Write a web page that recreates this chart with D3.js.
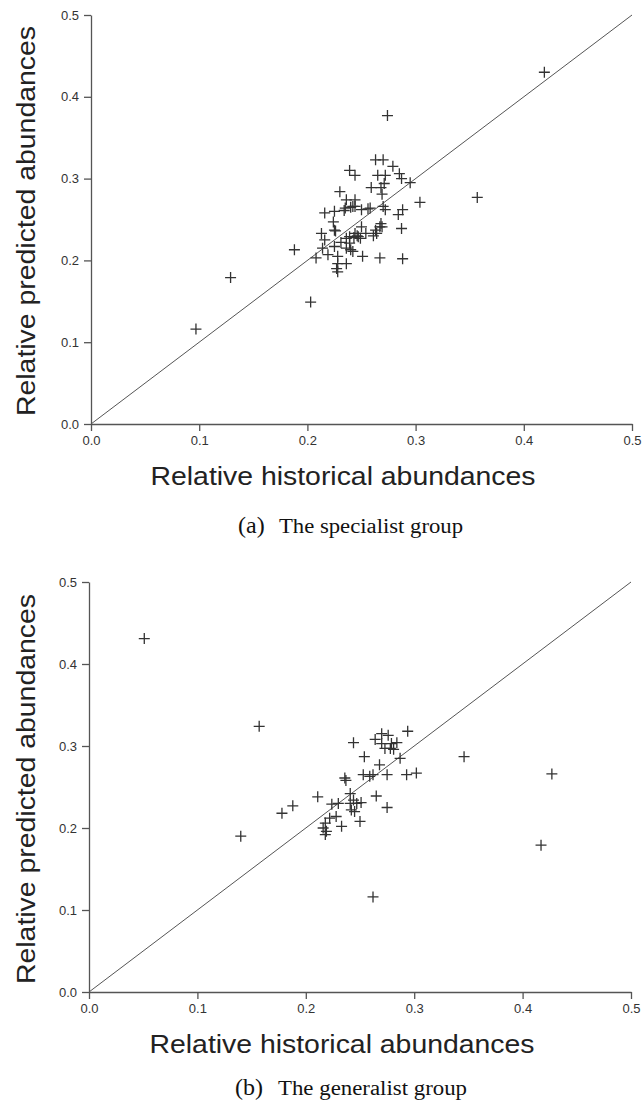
<!DOCTYPE html>
<html>
<head>
<meta charset="utf-8">
<script src="https://cdn.jsdelivr.net/npm/d3@7"></script>
<style>
  body { margin: 0; background: #fff; }
  svg { display: block; }
</style>
</head>
<body>
<svg id="chart" width="644" height="1102"></svg>
<script>
// tick values shared by both panels
const ticks = [0, 0.1, 0.2, 0.3, 0.4, 0.5];

// (a) specialist group: historical vs predicted
const specHist = [0.419, 0.274, 0.357, 0.188, 0.129, 0.203, 0.097,
  0.263, 0.270, 0.279, 0.285, 0.287, 0.239, 0.244, 0.265, 0.272, 0.271, 0.295, 0.259, 0.268, 0.230,
  0.269, 0.304, 0.236, 0.242, 0.250, 0.258, 0.270, 0.272, 0.288, 0.284, 0.225, 0.216, 0.235, 0.224,
  0.225, 0.213, 0.267, 0.264, 0.287, 0.250, 0.244, 0.247, 0.239, 0.236, 0.216, 0.214, 0.225, 0.239,
  0.236, 0.219, 0.228, 0.208, 0.251, 0.267, 0.288, 0.228, 0.236, 0.227, 0.228, 0.242,
  0.244, 0.240, 0.244, 0.256, 0.246, 0.249, 0.254, 0.263, 0.261, 0.269, 0.234, 0.226, 0.231, 0.240,
  0.243, 0.268];
const specPred = [0.430, 0.377, 0.277, 0.213, 0.179, 0.149, 0.116,
  0.323, 0.323, 0.315, 0.306, 0.300, 0.310, 0.304, 0.304, 0.304, 0.294, 0.295, 0.289, 0.289, 0.284,
  0.281, 0.271, 0.274, 0.266, 0.262, 0.264, 0.266, 0.262, 0.262, 0.256, 0.260, 0.258, 0.264, 0.247,
  0.237, 0.233, 0.241, 0.233, 0.239, 0.241, 0.233, 0.229, 0.229, 0.227, 0.225, 0.215, 0.217, 0.221,
  0.215, 0.207, 0.205, 0.203, 0.205, 0.203, 0.202, 0.196, 0.196, 0.190, 0.186, 0.211,
  0.274, 0.265, 0.266, 0.263, 0.230, 0.227, 0.233, 0.237, 0.230, 0.241, 0.261, 0.236, 0.222, 0.213,
  0.228, 0.245];

// (b) generalist group
const genHist = [0.051, 0.157, 0.140, 0.178, 0.188, 0.211, 0.346, 0.427, 0.417, 0.262,
  0.294, 0.244, 0.264, 0.270, 0.276, 0.270, 0.279, 0.284, 0.278, 0.273, 0.254, 0.268, 0.287,
  0.275, 0.293, 0.302, 0.236, 0.237, 0.253, 0.259, 0.262, 0.241, 0.244, 0.247, 0.251, 0.242,
  0.245, 0.265, 0.275, 0.224, 0.230, 0.222, 0.228, 0.250, 0.218, 0.216, 0.233, 0.219, 0.218,
  0.241, 0.281];
const genPred = [0.431, 0.324, 0.190, 0.218, 0.227, 0.238, 0.287, 0.266, 0.179, 0.116,
  0.318, 0.304, 0.308, 0.315, 0.313, 0.303, 0.303, 0.304, 0.297, 0.297, 0.287, 0.277, 0.285,
  0.265, 0.265, 0.267, 0.261, 0.258, 0.265, 0.263, 0.265, 0.242, 0.234, 0.230, 0.231, 0.222,
  0.220, 0.239, 0.225, 0.229, 0.230, 0.212, 0.214, 0.208, 0.206, 0.200, 0.202, 0.196, 0.192,
  0.230, 0.296];

const svg = d3.select("#chart");

drawPanel({ hist: specHist, pred: specPred, x0: 91, x1: 632, y0: 424, y1: 15,
  titleX: 343, titleY: 485, ytitleX: 35, ytitleY: 221,
  capY: 533, capLabel: "(a)", capText: "The specialist group", capX: 238, capTextX: 279, capW: 184 });
drawPanel({ hist: genHist, pred: genPred, x0: 89, x1: 631, y0: 992, y1: 582,
  titleX: 342, titleY: 1053, ytitleX: 35, ytitleY: 789,
  capY: 1095, capLabel: "(b)", capText: "The generalist group", capX: 235, capTextX: 278, capW: 189 });

function drawPanel(p) {
  const x = d3.scaleLinear().domain([0, 0.5]).range([p.x0, p.x1]);
  const y = d3.scaleLinear().domain([0, 0.5]).range([p.y0, p.y1]);
  const g = svg.append("g");

  // axes
  const ax = g.append("g")
    .attr("transform", "translate(0," + p.y0 + ")")
    .call(d3.axisBottom(x).tickValues(ticks).tickFormat(d3.format(".1f"))
      .tickSize(7).tickSizeOuter(0).tickPadding(5));
  const ay = g.append("g")
    .attr("transform", "translate(" + p.x0 + ",0)")
    .call(d3.axisLeft(y).tickValues(ticks).tickFormat(d3.format(".1f"))
      .tickSize(7).tickSizeOuter(0).tickPadding(5));
  [ax, ay].forEach(a => {
    a.selectAll("path, line").attr("stroke", "#555").attr("stroke-width", 1.3);
    a.selectAll("text").attr("fill", "#333")
      .style("font-family", "'Liberation Sans', Arial, sans-serif").style("font-size", "13px");
  });

  // 1:1 line
  g.append("line")
    .attr("x1", x(0)).attr("y1", y(0)).attr("x2", x(0.5)).attr("y2", y(0.5))
    .attr("stroke", "#555").attr("stroke-width", 1);

  // plus markers
  const pts = p.hist.map((h, i) => [h, p.pred[i]]);
  g.selectAll(".pt").data(pts).enter().append("path")
    .attr("class", "pt")
    .attr("d", d => {
      const cx = x(d[0]), cy = y(d[1]), r = 5.5;
      return "M" + (cx - r) + "," + cy + "H" + (cx + r) + "M" + cx + "," + (cy - r) + "V" + (cy + r);
    })
    .attr("stroke", "#333").attr("stroke-width", 1.3).attr("fill", "none");

  // axis titles
  g.append("text")
    .attr("x", p.titleX).attr("y", p.titleY)
    .attr("text-anchor", "middle")
    .attr("textLength", 385).attr("lengthAdjust", "spacingAndGlyphs")
    .style("font-family", "'Liberation Sans', Arial, sans-serif").style("font-size", "25px")
    .attr("fill", "#222")
    .text("Relative historical abundances");
  g.append("text")
    .attr("transform", "translate(" + p.ytitleX + "," + p.ytitleY + ") rotate(-90)")
    .attr("text-anchor", "middle")
    .attr("textLength", 390).attr("lengthAdjust", "spacingAndGlyphs")
    .style("font-family", "'Liberation Sans', Arial, sans-serif").style("font-size", "25px")
    .attr("fill", "#222")
    .text("Relative predicted abundances");

  // caption
  g.append("text")
    .attr("x", p.capX).attr("y", p.capY)
    .style("font-family", "'Liberation Serif', 'Times New Roman', serif").style("font-size", "24px")
    .attr("fill", "#111")
    .text(p.capLabel);
  g.append("text")
    .attr("x", p.capTextX).attr("y", p.capY)
    .attr("textLength", p.capW).attr("lengthAdjust", "spacingAndGlyphs")
    .style("font-family", "'Liberation Serif', 'Times New Roman', serif").style("font-size", "20px")
    .attr("fill", "#111")
    .text(p.capText);
}
</script>
</body>
</html>
